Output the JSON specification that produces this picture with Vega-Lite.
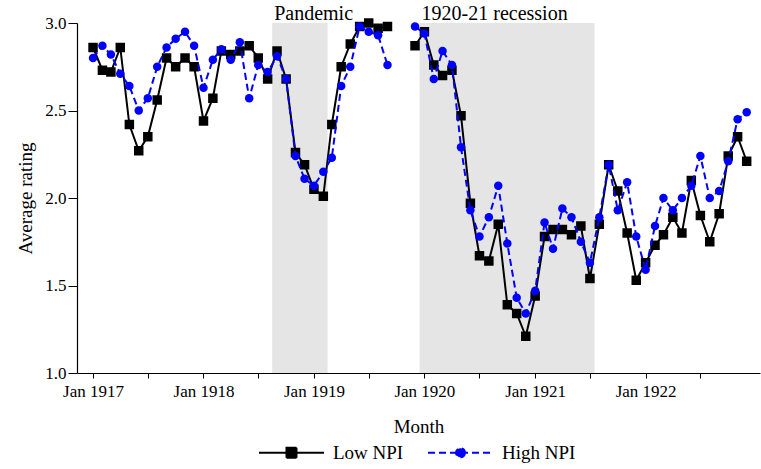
{
  "$schema": "https://vega.github.io/schema/vega-lite/v6.json",
  "autosize": "none",
  "width": 683,
  "height": 350,
  "padding": {"left": 77, "top": 23, "right": 1, "bottom": 96},
  "background": "white",
  "config": {
    "font": "Liberation Serif",
    "view": {"stroke": null},
    "axis": {"labelFont": "Liberation Serif", "titleFont": "Liberation Serif", "labelColor": "#000", "titleColor": "#000", "domainColor": "#000", "tickColor": "#000", "titleFontWeight": "normal", "grid": false},
    "legend": {"labelFont": "Liberation Serif", "labelColor": "#000"}
  },
  "datasets": {
    "periods": [
      {"start": "1918-08-16", "end": "1919-02-15", "label": "Pandemic"},
      {"start": "1919-12-16", "end": "1921-07-16", "label": "1920-21 recession"}
    ],
    "ratings": [
      {"month": "1917-01-01", "series": "Low NPI", "rating": 2.86},
      {"month": "1917-02-01", "series": "Low NPI", "rating": 2.73},
      {"month": "1917-03-01", "series": "Low NPI", "rating": 2.72},
      {"month": "1917-04-01", "series": "Low NPI", "rating": 2.86},
      {"month": "1917-05-01", "series": "Low NPI", "rating": 2.42},
      {"month": "1917-06-01", "series": "Low NPI", "rating": 2.27},
      {"month": "1917-07-01", "series": "Low NPI", "rating": 2.35},
      {"month": "1917-08-01", "series": "Low NPI", "rating": 2.56},
      {"month": "1917-09-01", "series": "Low NPI", "rating": 2.80},
      {"month": "1917-10-01", "series": "Low NPI", "rating": 2.75},
      {"month": "1917-11-01", "series": "Low NPI", "rating": 2.80},
      {"month": "1917-12-01", "series": "Low NPI", "rating": 2.75},
      {"month": "1918-01-01", "series": "Low NPI", "rating": 2.44},
      {"month": "1918-02-01", "series": "Low NPI", "rating": 2.57},
      {"month": "1918-03-01", "series": "Low NPI", "rating": 2.84},
      {"month": "1918-04-01", "series": "Low NPI", "rating": 2.82},
      {"month": "1918-05-01", "series": "Low NPI", "rating": 2.84},
      {"month": "1918-06-01", "series": "Low NPI", "rating": 2.87},
      {"month": "1918-07-01", "series": "Low NPI", "rating": 2.80},
      {"month": "1918-08-01", "series": "Low NPI", "rating": 2.68},
      {"month": "1918-09-01", "series": "Low NPI", "rating": 2.84},
      {"month": "1918-10-01", "series": "Low NPI", "rating": 2.68},
      {"month": "1918-11-01", "series": "Low NPI", "rating": 2.26},
      {"month": "1918-12-01", "series": "Low NPI", "rating": 2.19},
      {"month": "1919-01-01", "series": "Low NPI", "rating": 2.05},
      {"month": "1919-02-01", "series": "Low NPI", "rating": 2.01},
      {"month": "1919-03-01", "series": "Low NPI", "rating": 2.42},
      {"month": "1919-04-01", "series": "Low NPI", "rating": 2.75},
      {"month": "1919-05-01", "series": "Low NPI", "rating": 2.88},
      {"month": "1919-06-01", "series": "Low NPI", "rating": 2.98},
      {"month": "1919-07-01", "series": "Low NPI", "rating": 3.00},
      {"month": "1919-08-01", "series": "Low NPI", "rating": 2.97},
      {"month": "1919-09-01", "series": "Low NPI", "rating": 2.98},
      {"month": "1919-10-01", "series": "Low NPI", "rating": null},
      {"month": "1919-11-01", "series": "Low NPI", "rating": null},
      {"month": "1919-12-01", "series": "Low NPI", "rating": 2.87},
      {"month": "1920-01-01", "series": "Low NPI", "rating": 2.95},
      {"month": "1920-02-01", "series": "Low NPI", "rating": 2.76},
      {"month": "1920-03-01", "series": "Low NPI", "rating": 2.70},
      {"month": "1920-04-01", "series": "Low NPI", "rating": 2.73},
      {"month": "1920-05-01", "series": "Low NPI", "rating": 2.47},
      {"month": "1920-06-01", "series": "Low NPI", "rating": 1.97},
      {"month": "1920-07-01", "series": "Low NPI", "rating": 1.67},
      {"month": "1920-08-01", "series": "Low NPI", "rating": 1.64},
      {"month": "1920-09-01", "series": "Low NPI", "rating": 1.85},
      {"month": "1920-10-01", "series": "Low NPI", "rating": 1.39},
      {"month": "1920-11-01", "series": "Low NPI", "rating": 1.34},
      {"month": "1920-12-01", "series": "Low NPI", "rating": 1.21},
      {"month": "1921-01-01", "series": "Low NPI", "rating": 1.44},
      {"month": "1921-02-01", "series": "Low NPI", "rating": 1.78},
      {"month": "1921-03-01", "series": "Low NPI", "rating": 1.82},
      {"month": "1921-04-01", "series": "Low NPI", "rating": 1.82},
      {"month": "1921-05-01", "series": "Low NPI", "rating": 1.79},
      {"month": "1921-06-01", "series": "Low NPI", "rating": 1.84},
      {"month": "1921-07-01", "series": "Low NPI", "rating": 1.54},
      {"month": "1921-08-01", "series": "Low NPI", "rating": 1.85},
      {"month": "1921-09-01", "series": "Low NPI", "rating": 2.19},
      {"month": "1921-10-01", "series": "Low NPI", "rating": 2.04},
      {"month": "1921-11-01", "series": "Low NPI", "rating": 1.80},
      {"month": "1921-12-01", "series": "Low NPI", "rating": 1.53},
      {"month": "1922-01-01", "series": "Low NPI", "rating": 1.63},
      {"month": "1922-02-01", "series": "Low NPI", "rating": 1.73},
      {"month": "1922-03-01", "series": "Low NPI", "rating": 1.79},
      {"month": "1922-04-01", "series": "Low NPI", "rating": 1.89},
      {"month": "1922-05-01", "series": "Low NPI", "rating": 1.80},
      {"month": "1922-06-01", "series": "Low NPI", "rating": 2.10},
      {"month": "1922-07-01", "series": "Low NPI", "rating": 1.90},
      {"month": "1922-08-01", "series": "Low NPI", "rating": 1.75},
      {"month": "1922-09-01", "series": "Low NPI", "rating": 1.91},
      {"month": "1922-10-01", "series": "Low NPI", "rating": 2.24},
      {"month": "1922-11-01", "series": "Low NPI", "rating": 2.35},
      {"month": "1922-12-01", "series": "Low NPI", "rating": 2.21},
      {"month": "1917-01-01", "series": "High NPI", "rating": 2.80},
      {"month": "1917-02-01", "series": "High NPI", "rating": 2.87},
      {"month": "1917-03-01", "series": "High NPI", "rating": 2.82},
      {"month": "1917-04-01", "series": "High NPI", "rating": 2.71},
      {"month": "1917-05-01", "series": "High NPI", "rating": 2.64},
      {"month": "1917-06-01", "series": "High NPI", "rating": 2.50},
      {"month": "1917-07-01", "series": "High NPI", "rating": 2.57},
      {"month": "1917-08-01", "series": "High NPI", "rating": 2.75},
      {"month": "1917-09-01", "series": "High NPI", "rating": 2.86},
      {"month": "1917-10-01", "series": "High NPI", "rating": 2.91},
      {"month": "1917-11-01", "series": "High NPI", "rating": 2.95},
      {"month": "1917-12-01", "series": "High NPI", "rating": 2.87},
      {"month": "1918-01-01", "series": "High NPI", "rating": 2.63},
      {"month": "1918-02-01", "series": "High NPI", "rating": 2.79},
      {"month": "1918-03-01", "series": "High NPI", "rating": 2.85},
      {"month": "1918-04-01", "series": "High NPI", "rating": 2.79},
      {"month": "1918-05-01", "series": "High NPI", "rating": 2.89},
      {"month": "1918-06-01", "series": "High NPI", "rating": 2.57},
      {"month": "1918-07-01", "series": "High NPI", "rating": 2.76},
      {"month": "1918-08-01", "series": "High NPI", "rating": 2.72},
      {"month": "1918-09-01", "series": "High NPI", "rating": 2.81},
      {"month": "1918-10-01", "series": "High NPI", "rating": 2.68},
      {"month": "1918-11-01", "series": "High NPI", "rating": 2.24},
      {"month": "1918-12-01", "series": "High NPI", "rating": 2.11},
      {"month": "1919-01-01", "series": "High NPI", "rating": 2.07},
      {"month": "1919-02-01", "series": "High NPI", "rating": 2.15},
      {"month": "1919-03-01", "series": "High NPI", "rating": 2.23},
      {"month": "1919-04-01", "series": "High NPI", "rating": 2.64},
      {"month": "1919-05-01", "series": "High NPI", "rating": 2.75},
      {"month": "1919-06-01", "series": "High NPI", "rating": 2.98},
      {"month": "1919-07-01", "series": "High NPI", "rating": 2.95},
      {"month": "1919-08-01", "series": "High NPI", "rating": 2.93},
      {"month": "1919-09-01", "series": "High NPI", "rating": 2.76},
      {"month": "1919-10-01", "series": "High NPI", "rating": null},
      {"month": "1919-11-01", "series": "High NPI", "rating": null},
      {"month": "1919-12-01", "series": "High NPI", "rating": 2.98},
      {"month": "1920-01-01", "series": "High NPI", "rating": 2.94},
      {"month": "1920-02-01", "series": "High NPI", "rating": 2.68},
      {"month": "1920-03-01", "series": "High NPI", "rating": 2.84},
      {"month": "1920-04-01", "series": "High NPI", "rating": 2.76},
      {"month": "1920-05-01", "series": "High NPI", "rating": 2.29},
      {"month": "1920-06-01", "series": "High NPI", "rating": 1.93},
      {"month": "1920-07-01", "series": "High NPI", "rating": 1.78},
      {"month": "1920-08-01", "series": "High NPI", "rating": 1.89},
      {"month": "1920-09-01", "series": "High NPI", "rating": 2.07},
      {"month": "1920-10-01", "series": "High NPI", "rating": 1.74},
      {"month": "1920-11-01", "series": "High NPI", "rating": 1.43},
      {"month": "1920-12-01", "series": "High NPI", "rating": 1.34},
      {"month": "1921-01-01", "series": "High NPI", "rating": 1.47},
      {"month": "1921-02-01", "series": "High NPI", "rating": 1.86},
      {"month": "1921-03-01", "series": "High NPI", "rating": 1.71},
      {"month": "1921-04-01", "series": "High NPI", "rating": 1.94},
      {"month": "1921-05-01", "series": "High NPI", "rating": 1.89},
      {"month": "1921-06-01", "series": "High NPI", "rating": 1.75},
      {"month": "1921-07-01", "series": "High NPI", "rating": 1.63},
      {"month": "1921-08-01", "series": "High NPI", "rating": 1.89},
      {"month": "1921-09-01", "series": "High NPI", "rating": 2.19},
      {"month": "1921-10-01", "series": "High NPI", "rating": 1.93},
      {"month": "1921-11-01", "series": "High NPI", "rating": 2.09},
      {"month": "1921-12-01", "series": "High NPI", "rating": 1.78},
      {"month": "1922-01-01", "series": "High NPI", "rating": 1.59},
      {"month": "1922-02-01", "series": "High NPI", "rating": 1.84},
      {"month": "1922-03-01", "series": "High NPI", "rating": 2.00},
      {"month": "1922-04-01", "series": "High NPI", "rating": 1.93},
      {"month": "1922-05-01", "series": "High NPI", "rating": 2.00},
      {"month": "1922-06-01", "series": "High NPI", "rating": 2.07},
      {"month": "1922-07-01", "series": "High NPI", "rating": 2.24},
      {"month": "1922-08-01", "series": "High NPI", "rating": 2.00},
      {"month": "1922-09-01", "series": "High NPI", "rating": 2.04},
      {"month": "1922-10-01", "series": "High NPI", "rating": 2.21},
      {"month": "1922-11-01", "series": "High NPI", "rating": 2.45},
      {"month": "1922-12-01", "series": "High NPI", "rating": 2.49}
    ]
  },
  "layer": [
    {
      "data": {"name": "periods"},
      "mark": {"type": "rect", "color": "#e5e5e5", "opacity": 1},
      "encoding": {
        "x": {"field": "start", "type": "temporal", "scale": {"type": "utc", "domain": ["1916-11-09", "1923-01-14"]},
          "title": "Month",
          "axis": {
            "values": [
              {"year": 1917, "month": 1, "date": 1, "utc": true}, {"year": 1917, "month": 4, "date": 1, "utc": true}, {"year": 1917, "month": 7, "date": 1, "utc": true}, {"year": 1917, "month": 10, "date": 1, "utc": true},
              {"year": 1918, "month": 1, "date": 1, "utc": true}, {"year": 1918, "month": 4, "date": 1, "utc": true}, {"year": 1918, "month": 7, "date": 1, "utc": true}, {"year": 1918, "month": 10, "date": 1, "utc": true},
              {"year": 1919, "month": 1, "date": 1, "utc": true}, {"year": 1919, "month": 4, "date": 1, "utc": true}, {"year": 1919, "month": 7, "date": 1, "utc": true}, {"year": 1919, "month": 10, "date": 1, "utc": true},
              {"year": 1920, "month": 1, "date": 1, "utc": true}, {"year": 1920, "month": 4, "date": 1, "utc": true}, {"year": 1920, "month": 7, "date": 1, "utc": true}, {"year": 1920, "month": 10, "date": 1, "utc": true},
              {"year": 1921, "month": 1, "date": 1, "utc": true}, {"year": 1921, "month": 4, "date": 1, "utc": true}, {"year": 1921, "month": 7, "date": 1, "utc": true}, {"year": 1921, "month": 10, "date": 1, "utc": true},
              {"year": 1922, "month": 1, "date": 1, "utc": true}, {"year": 1922, "month": 4, "date": 1, "utc": true}, {"year": 1922, "month": 7, "date": 1, "utc": true}, {"year": 1922, "month": 10, "date": 1, "utc": true}
            ],
            "labelExpr": "utcmonth(datum.value) == 0 ? utcFormat(datum.value, '%b %Y') : ''", "labelFontSize": 17, "titleFontSize": 19, "tickSize": 5, "labelPadding": 5, "titlePadding": 18, "labelOverlap": false, "labelFlush": false, "domainWidth": 1.2}},
        "x2": {"field": "end"},
        "y": {"datum": 1, "type": "quantitative", "scale": {"domain": [1, 3], "nice": false, "zero": false},
          "title": "Average rating",
          "axis": {"values": [1, 1.5, 2, 2.5, 3], "format": ".1f", "labelFontSize": 17, "titleFontSize": 19, "tickSize": 9, "labelPadding": 2, "titlePadding": 9, "domainWidth": 1.2}},
        "y2": {"datum": 3}
      }
    },
    {
      "data": {"name": "periods"},
      "mark": {"type": "text", "align": "left", "baseline": "alphabetic", "dx": 2, "dy": -3, "fontSize": 20, "color": "#000"},
      "encoding": {
        "x": {"field": "start", "type": "temporal", "title": "Month"},
        "y": {"datum": 3, "type": "quantitative", "title": "Average rating"},
        "text": {"field": "label"}
      }
    },
    {
      "data": {"name": "ratings"},
      "transform": [{"filter": "datum.series === 'Low NPI'"}],
      "mark": {"type": "line", "strokeWidth": 2, "invalid": "break-paths-filter-domains"},
      "encoding": {
        "x": {"field": "month", "type": "temporal", "title": "Month"},
        "y": {"field": "rating", "type": "quantitative", "title": "Average rating"},
        "color": {"field": "series", "type": "nominal",
          "scale": {"domain": ["Low NPI", "High NPI"], "range": ["#000000", "#0000ff"]},
          "legend": {"orient": "none", "legendX": 178, "legendY": 420, "direction": "horizontal", "title": null, "labelFontSize": 19, "symbolOffset": 27, "labelOffset": 32, "columnPadding": 20,
            "encode": {"symbols": {"update": {
              "shape": {"signal": "datum.value === 'Low NPI' ? 'M-6.5,0H6.5M-1,-1H1V1H-1Z' : 'M-6.5,0H6.5M0.9,0A0.9,0.9,0,1,1,-0.9,0A0.9,0.9,0,1,1,0.9,0Z'"},
              "fill": {"signal": "datum.value === 'Low NPI' ? '#000000' : '#0000ff'"},
              "stroke": {"signal": "datum.value === 'Low NPI' ? '#000000' : '#0000ff'"},
              "strokeDash": {"signal": "datum.value === 'Low NPI' ? [1, 0] : [7, 4]"},
              "strokeWidth": {"value": 2},
              "size": {"value": 100},
              "opacity": {"value": 1},
              "fillOpacity": {"value": 1}
            }}}}
        }
      }
    },
    {
      "data": {"name": "ratings"},
      "transform": [{"filter": "datum.series === 'Low NPI' && datum.rating != null"}],
      "mark": {"type": "point", "shape": "square", "filled": true, "size": 90, "opacity": 1},
      "encoding": {
        "x": {"field": "month", "type": "temporal", "title": "Month"},
        "y": {"field": "rating", "type": "quantitative", "title": "Average rating"},
        "color": {"field": "series", "type": "nominal"}
      }
    },
    {
      "data": {"name": "ratings"},
      "transform": [{"filter": "datum.series === 'High NPI'"}],
      "mark": {"type": "line", "strokeWidth": 2, "strokeDash": [7, 4], "invalid": "break-paths-filter-domains"},
      "encoding": {
        "x": {"field": "month", "type": "temporal", "title": "Month"},
        "y": {"field": "rating", "type": "quantitative", "title": "Average rating"},
        "color": {"field": "series", "type": "nominal"}
      }
    },
    {
      "data": {"name": "ratings"},
      "transform": [{"filter": "datum.series === 'High NPI' && datum.rating != null"}],
      "mark": {"type": "point", "shape": "circle", "filled": true, "size": 72, "opacity": 1},
      "encoding": {
        "x": {"field": "month", "type": "temporal", "title": "Month"},
        "y": {"field": "rating", "type": "quantitative", "title": "Average rating"},
        "color": {"field": "series", "type": "nominal"}
      }
    }
  ]
}
